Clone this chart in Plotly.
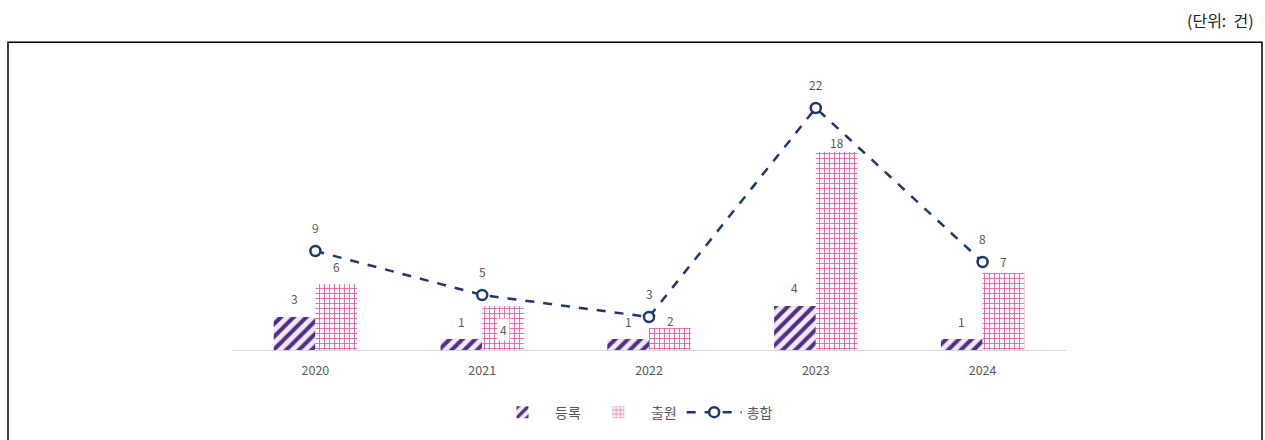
import plotly.graph_objects as go

# 연도별 등록/출원 건수와 총합
years = ["2020", "2021", "2022", "2023", "2024"]
registered = [3, 1, 1, 4, 1]      # 등록
filed = [6, 4, 2, 18, 7]          # 출원
total = [9, 5, 3, 22, 8]          # 총합

# label offsets (px) above each mark
reg_label_shift = [19, 18, 18, 19, 18]
filed_label_shift = [18, -23, 8, 10, 12]
total_label_shift = [24, 24, 24, 24, 24]

W, H = 1265, 440
L, R, T, B = 232, 199, 86, 88
FONT = "Noto Sans CJK KR"
GRAY = "#595959"
PURPLE = "#4E2F86"
PINK = "#E0559A"
NAVY = "#1F3864"

fig = go.Figure()

fig.add_trace(go.Bar(
    name="등록", x=years, y=registered,
    marker=dict(
        color="#F6E8F3",
        line=dict(width=0),
        pattern=dict(shape="/", fgcolor=PURPLE, bgcolor="#F6E8F3", fgopacity=1,
                     size=9, solidity=0.45, fillmode="replace"),
    ),
))
fig.add_trace(go.Bar(
    name="출원", x=years, y=filed,
    marker=dict(
        color="#FFF7FB",
        line=dict(width=0),
        pattern=dict(shape="+", fgcolor=PINK, bgcolor="#FFF7FB", fgopacity=1,
                     size=5, solidity=0.3, fillmode="replace"),
    ),
))
fig.add_trace(go.Scatter(
    name="총합", x=years, y=total, mode="lines+markers",
    line=dict(color=NAVY, width=2.5, dash="dash"),
    marker=dict(symbol="circle", size=10, color="white",
                line=dict(color=NAVY, width=2.5)),
))

# value labels; on a category axis the annotation x is the category index
ann = []
for i, yr in enumerate(years):
    ann.append(dict(x=i, y=registered[i], xref="x", yref="y", xshift=-21,
                    yshift=reg_label_shift[i], text=str(registered[i]),
                    showarrow=False, yanchor="middle",
                    font=dict(family=FONT, size=12, color=GRAY)))
    inside = filed_label_shift[i] < 0
    ann.append(dict(x=i, y=filed[i], xref="x", yref="y", xshift=21,
                    yshift=filed_label_shift[i], text=str(filed[i]),
                    showarrow=False, yanchor="middle",
                    bgcolor="white" if inside else "rgba(0,0,0,0)",
                    borderpad=2,
                    font=dict(family=FONT, size=12, color=GRAY)))
    ann.append(dict(x=i, y=total[i], xref="x", yref="y",
                    yshift=total_label_shift[i], text=str(total[i]),
                    showarrow=False, yanchor="middle",
                    font=dict(family=FONT, size=12, color=GRAY)))

pw, ph = W - L - R, H - T - B
ann.append(dict(x=(1256 - L) / pw, y=(H - B - 20) / ph, xref="paper", yref="paper",
                text="(단위:  건)", showarrow=False, xanchor="right", yanchor="middle",
                font=dict(family=FONT, size=16, color="#222222")))

# outer frame (open at the bottom edge of the page)
frame = dict(type="rect", xref="paper", yref="paper",
             x0=(8 - L) / pw, x1=(1262 - L) / pw,
             y0=(H - B - 460) / ph, y1=(H - B - 42) / ph,
             line=dict(color="#000000", width=1.5), fillcolor="rgba(0,0,0,0)",
             layer="below")

fig.update_layout(
    width=W, height=H,
    margin=dict(l=L, r=R, t=T, b=B),
    paper_bgcolor="white", plot_bgcolor="white",
    barmode="group", bargap=0.5, bargroupgap=0,
    showlegend=True,
    legend=dict(orientation="h", x=(634 - L) / pw, xanchor="center",
                y=(H - B - 415) / ph, yanchor="middle",
                font=dict(family=FONT, size=14, color=GRAY),
                itemwidth=55, traceorder="normal"),
    xaxis=dict(type="category", range=[-0.5, len(years) - 0.5],
               showline=True, linecolor="#D9D9D9", linewidth=1,
               ticks="", showgrid=False, ticklabelstandoff=9,
               tickfont=dict(family=FONT, size=12.5, color=GRAY)),
    yaxis=dict(range=[0, 24], visible=False, showgrid=False),
    annotations=ann,
    shapes=[frame],
    font=dict(family=FONT),
)

fig.write_html("out.html")
